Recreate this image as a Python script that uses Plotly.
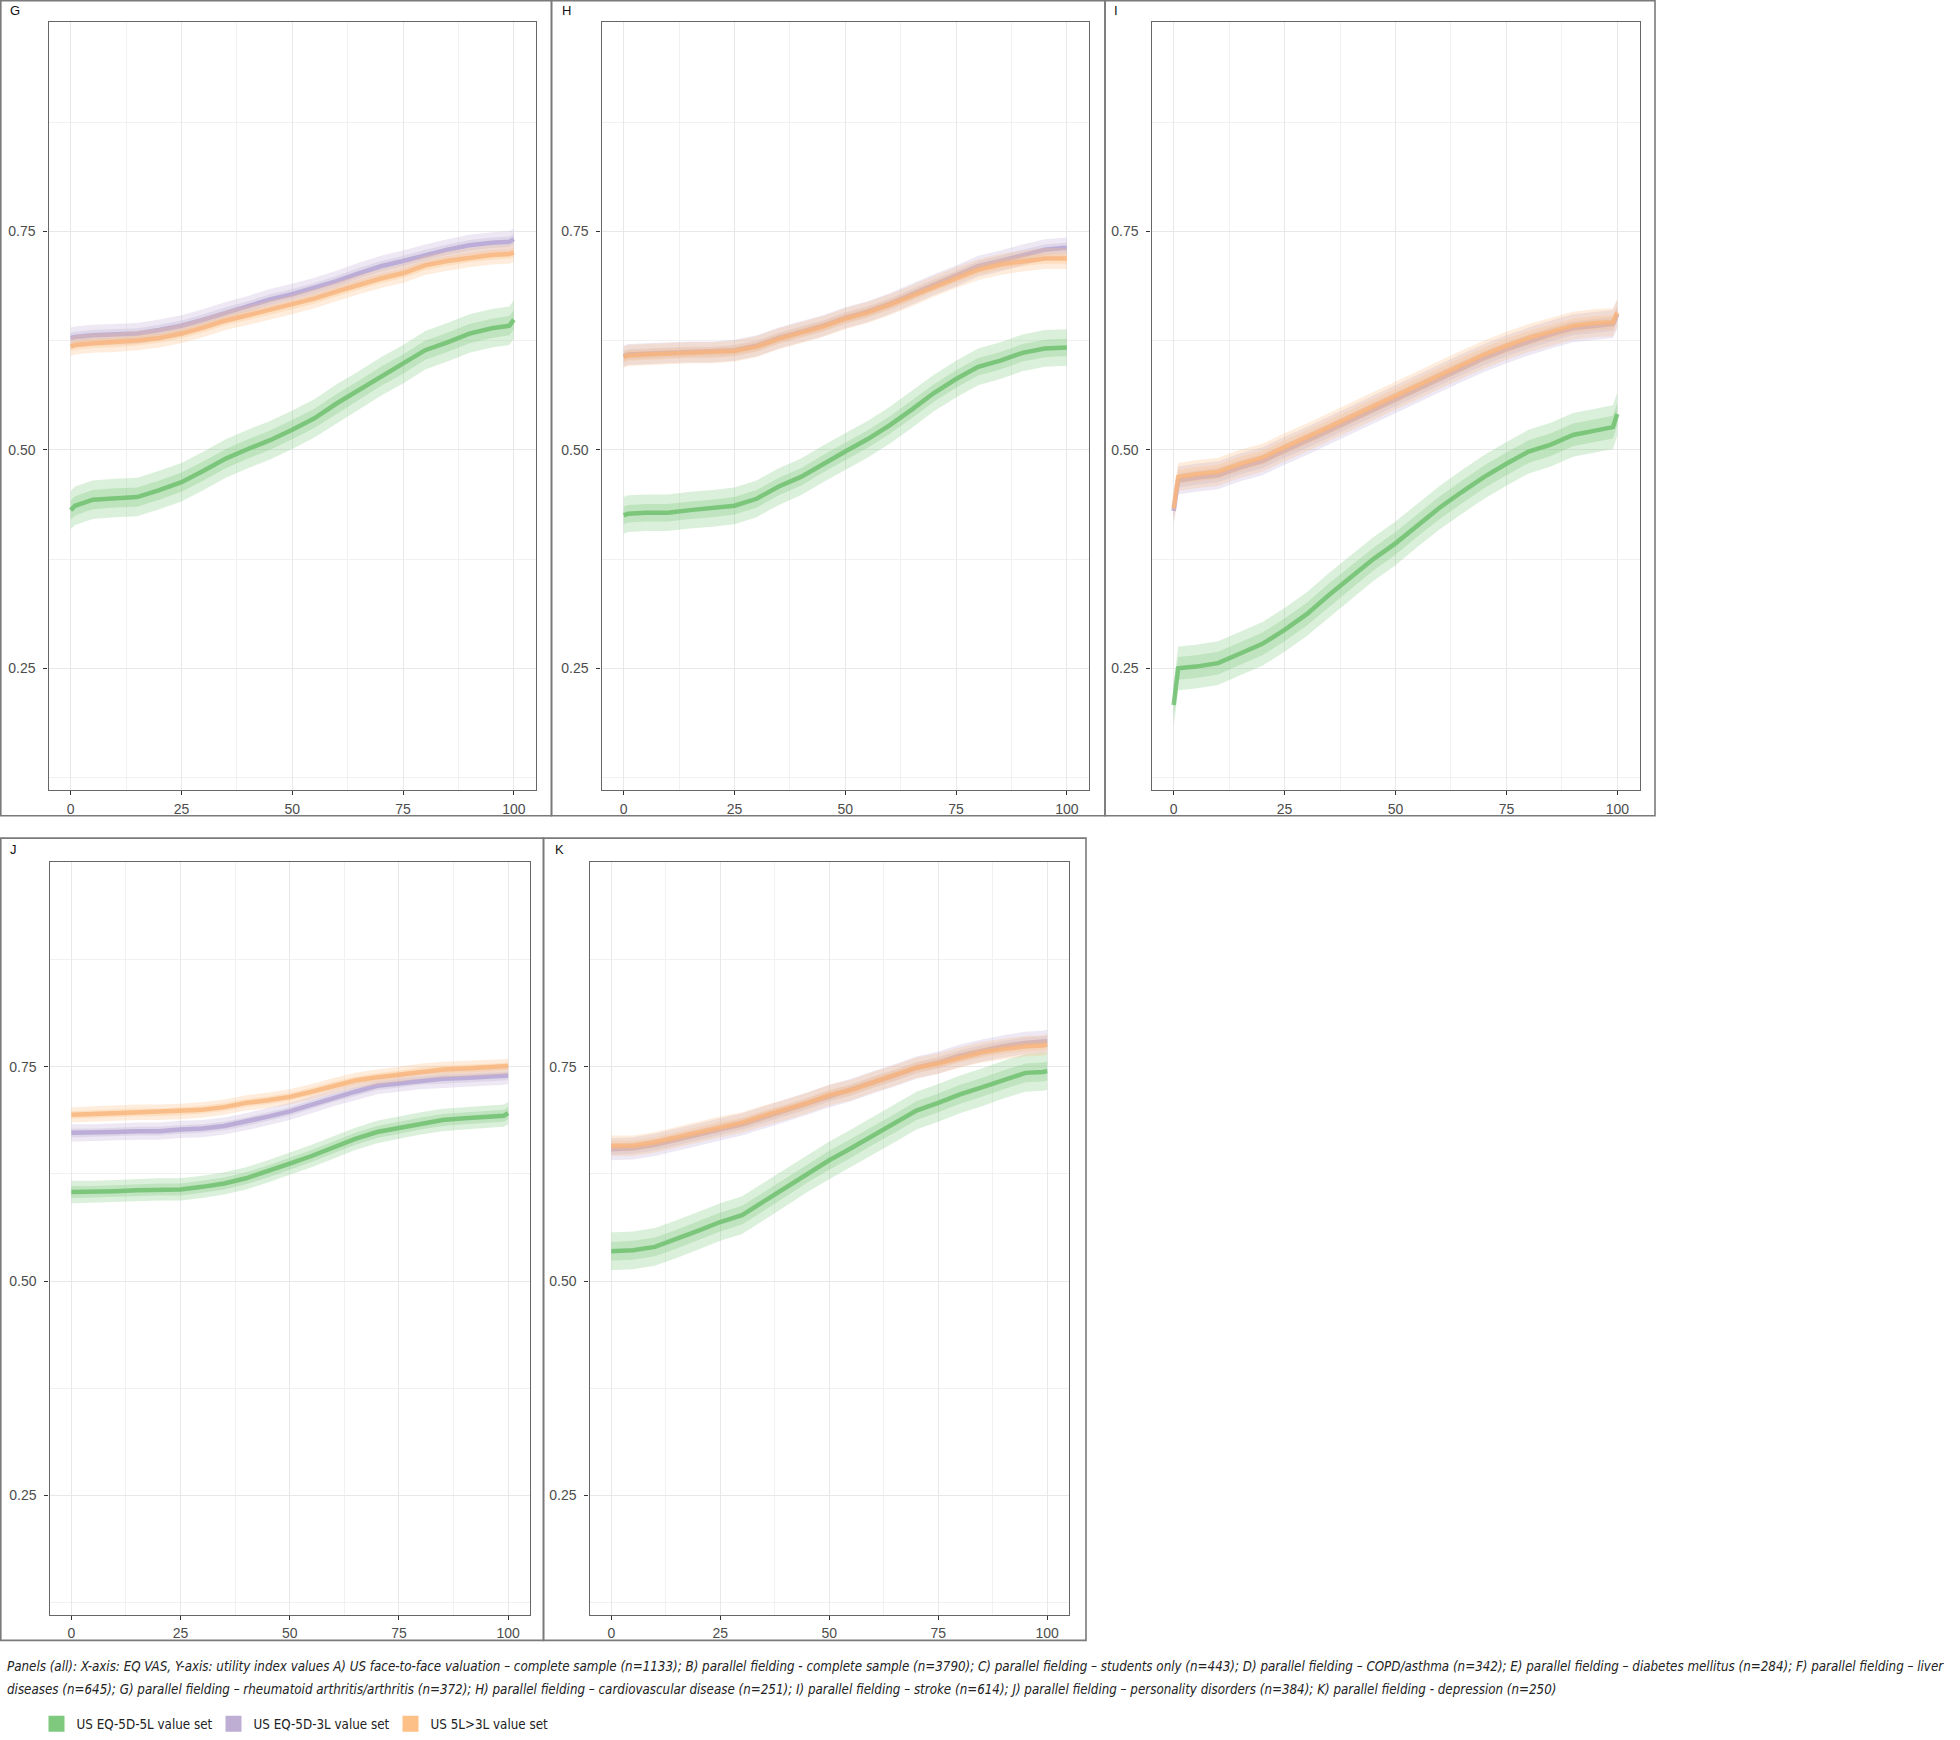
import plotly.graph_objects as go

W, H = 1960, 1740

X = [0, 1, 5, 10, 15, 20, 25, 30, 35, 40, 45, 50, 55, 60, 65, 70, 75, 80, 85, 90, 95, 99, 100]
series_names = ["US EQ-5D-5L value set", "US EQ-5D-3L value set", "US 5L>3L value set"]
colors = ["#7fc97f", "#beaed4", "#fdc086"]
line_colors = ["#6cbf6c", "#b3a3d4", "#f9b57c"]
panel_labels = ["G", "H", "I", "J", "K"]

G_5L = [0.431, 0.436, 0.443, 0.445, 0.446, 0.454, 0.463, 0.476, 0.490, 0.501, 0.511, 0.523, 0.536, 0.553, 0.568, 0.584, 0.598, 0.614, 0.623, 0.633, 0.639, 0.642, 0.649]
G_3L = [0.628, 0.629, 0.631, 0.632, 0.633, 0.637, 0.642, 0.649, 0.657, 0.664, 0.672, 0.678, 0.685, 0.693, 0.702, 0.710, 0.716, 0.723, 0.729, 0.734, 0.737, 0.738, 0.741]
G_5to3 = [0.618, 0.620, 0.622, 0.623, 0.625, 0.628, 0.633, 0.640, 0.648, 0.654, 0.660, 0.666, 0.673, 0.681, 0.689, 0.696, 0.702, 0.711, 0.716, 0.720, 0.723, 0.724, 0.726]

H_5L = [0.425, 0.427, 0.428, 0.428, 0.431, 0.433, 0.436, 0.444, 0.458, 0.469, 0.484, 0.498, 0.512, 0.528, 0.546, 0.565, 0.581, 0.595, 0.602, 0.611, 0.616, 0.617, 0.617]
H_3L = [0.607, 0.609, 0.610, 0.611, 0.612, 0.612, 0.614, 0.619, 0.628, 0.635, 0.642, 0.651, 0.658, 0.667, 0.678, 0.689, 0.699, 0.710, 0.716, 0.723, 0.729, 0.731, 0.731]
H_5to3 = [0.606, 0.608, 0.609, 0.610, 0.611, 0.611, 0.613, 0.618, 0.627, 0.634, 0.641, 0.650, 0.657, 0.666, 0.676, 0.687, 0.697, 0.706, 0.712, 0.716, 0.719, 0.719, 0.719]

I_5L = [0.208, 0.250, 0.252, 0.256, 0.267, 0.278, 0.294, 0.312, 0.334, 0.354, 0.375, 0.393, 0.414, 0.434, 0.452, 0.469, 0.484, 0.498, 0.506, 0.517, 0.522, 0.526, 0.541]
I_3L = [0.430, 0.465, 0.468, 0.471, 0.480, 0.487, 0.499, 0.510, 0.522, 0.534, 0.546, 0.558, 0.570, 0.582, 0.594, 0.605, 0.615, 0.624, 0.632, 0.639, 0.642, 0.644, 0.655]
I_5to3 = [0.433, 0.469, 0.472, 0.475, 0.484, 0.491, 0.503, 0.514, 0.526, 0.538, 0.550, 0.562, 0.574, 0.586, 0.598, 0.609, 0.619, 0.628, 0.635, 0.642, 0.645, 0.646, 0.657]

J_5L = [0.604, 0.604, 0.604, 0.605, 0.606, 0.607, 0.607, 0.610, 0.614, 0.620, 0.628, 0.637, 0.646, 0.656, 0.666, 0.674, 0.679, 0.684, 0.688, 0.690, 0.692, 0.693, 0.696]
J_3L = [0.673, 0.673, 0.673, 0.674, 0.675, 0.675, 0.677, 0.678, 0.681, 0.686, 0.692, 0.698, 0.706, 0.714, 0.721, 0.728, 0.731, 0.734, 0.736, 0.737, 0.738, 0.739, 0.740]
J_5to3 = [0.694, 0.694, 0.695, 0.696, 0.697, 0.697, 0.698, 0.700, 0.703, 0.708, 0.711, 0.715, 0.721, 0.728, 0.734, 0.738, 0.741, 0.745, 0.747, 0.748, 0.749, 0.750, 0.751]

K_5L = [0.535, 0.535, 0.536, 0.540, 0.549, 0.559, 0.569, 0.577, 0.593, 0.609, 0.626, 0.641, 0.655, 0.670, 0.684, 0.699, 0.708, 0.718, 0.726, 0.735, 0.743, 0.744, 0.745]
K_3L = [0.654, 0.654, 0.655, 0.659, 0.665, 0.671, 0.677, 0.683, 0.691, 0.699, 0.707, 0.716, 0.723, 0.732, 0.740, 0.749, 0.755, 0.763, 0.769, 0.774, 0.778, 0.779, 0.780]
K_5to3 = [0.658, 0.658, 0.658, 0.662, 0.668, 0.674, 0.680, 0.685, 0.693, 0.700, 0.708, 0.717, 0.723, 0.732, 0.740, 0.749, 0.754, 0.761, 0.767, 0.771, 0.774, 0.775, 0.776]

# confidence band half-widths (outer, inner) per panel for [5L, 3L, 5L>3L]
G_ci = [(0.022, 0.011), (0.012, 0.006), (0.011, 0.0055)]
H_ci = [(0.021, 0.010), (0.012, 0.006), (0.012, 0.006)]
I_ci = [(0.025, 0.013), (0.016, 0.008), (0.016, 0.008)]
J_ci = [(0.013, 0.007), (0.010, 0.005), (0.009, 0.0045)]
K_ci = [(0.022, 0.011), (0.013, 0.0065), (0.012, 0.006)]

x_ticks = [0, 25, 50, 75, 100]
x_minor = [12.5, 37.5, 62.5, 87.5]
y_ticks = [0.25, 0.50, 0.75]
y_ticktext = ["0.25", "0.50", "0.75"]
y_minor = [0.125, 0.375, 0.625, 0.875]

caption1 = ("Panels (all): X-axis: EQ VAS, Y-axis: utility index values A) US face-to-face valuation \u2013 complete sample (n=1133); "
            "B) parallel fielding - complete sample (n=3790); C) parallel fielding \u2013 students only (n=443); "
            "D) parallel fielding \u2013 COPD/asthma (n=342); E) parallel fielding \u2013 diabetes mellitus (n=284); F) parallel fielding \u2013 liver")
caption2 = ("diseases (n=645); G) parallel fielding \u2013 rheumatoid arthritis/arthritis (n=372); H) parallel fielding \u2013 cardiovascular disease (n=251); "
            "I) parallel fielding \u2013 stroke (n=614); J) parallel fielding \u2013 personality disorders (n=384); K) parallel fielding - depression (n=250)")

panels = [
    (G_5L, G_3L, G_5to3, G_ci),
    (H_5L, H_3L, H_5to3, H_ci),
    (I_5L, I_3L, I_5to3, I_ci),
    (J_5L, J_3L, J_5to3, J_ci),
    (K_5L, K_3L, K_5to3, K_ci),
]

# layout geometry in pixels: plot areas (l, r, t, b) and outer boxes (l, r, t, b)
plot_px = [(48.5, 536, 22.5, 793.5), (601.5, 1089, 22.5, 793.5), (1151.5, 1639.5, 22.5, 793.5),
           (49.5, 530, 866, 1622), (589.5, 1069, 866, 1622)]
box_px = [(0.8, 551.5, 0.8, 819.5), (551.5, 1105, 0.8, 819.5), (1105, 1655, 0.8, 819.5),
          (0.8, 543.5, 842, 1648), (543.5, 1086, 842, 1648)]
label_px = [(8, 11), (560, 11), (1112, 11), (8, 853), (553, 853)]

SANS = "Liberation Sans, Arial, sans-serif"
NARROW = "Liberation Sans Narrow, Arial Narrow, DejaVu Sans Condensed, sans-serif"


def rgba(hexc, a):
    h = hexc.lstrip("#")
    return "rgba(%d,%d,%d,%.3f)" % (int(h[0:2], 16), int(h[2:4], 16), int(h[4:6], 16), a)


fig = go.Figure()
layout_axes = {}
shapes = []
annotations = []

for i, (s5, s3, s53, ci) in enumerate(panels):
    n = i + 1
    xa = "x" if n == 1 else "x%d" % n
    ya = "y" if n == 1 else "y%d" % n
    for k, vals in enumerate([s5, s3, s53]):
        c = colors[k]
        w_out, w_in = ci[k]
        for w, a in [(w_out, 0.28), (w_in, 0.30)]:
            hi = [v + w for v in vals]
            lo = [v - w for v in vals]
            fig.add_trace(go.Scatter(x=X + X[::-1], y=hi + lo[::-1], fill="toself",
                                     fillcolor=rgba(c, a), line=dict(width=0),
                                     mode="lines", hoverinfo="skip", showlegend=False,
                                     xaxis=xa, yaxis=ya))
        fig.add_trace(go.Scatter(x=X, y=vals, mode="lines",
                                 line=dict(color=line_colors[k], width=4.5), opacity=0.8,
                                 name=series_names[k], showlegend=False,
                                 xaxis=xa, yaxis=ya))
    l, r, t, b = plot_px[i]
    xkey = "xaxis" if n == 1 else "xaxis%d" % n
    ykey = "yaxis" if n == 1 else "yaxis%d" % n
    layout_axes[xkey] = dict(
        domain=[l / W, r / W], anchor=ya, range=[-5, 105],
        tickmode="array", tickvals=x_ticks, ticks="outside", ticklen=4, tickwidth=1.3,
        tickcolor="#333333", showline=True, mirror=True, linecolor="#666666", linewidth=1.3,
        showgrid=True, gridcolor="#e8e8e8", gridwidth=1.4, zeroline=False, ticklabelstandoff=2,
        tickfont=dict(family=SANS, size=14, color="#4d4d4d"),
        minor=dict(tickmode="array", tickvals=x_minor, showgrid=True, gridcolor="#f1f1f1", gridwidth=1, ticklen=0),
    )
    layout_axes[ykey] = dict(
        domain=[1 - b / H, 1 - t / H], anchor=xa, range=[0.111, 0.989],
        tickmode="array", tickvals=y_ticks, ticktext=y_ticktext, ticks="outside", ticklen=4, tickwidth=1.3,
        tickcolor="#333333", showline=True, mirror=True, linecolor="#666666", linewidth=1.3,
        showgrid=True, gridcolor="#e8e8e8", gridwidth=1.4, zeroline=False, ticklabelstandoff=5,
        tickfont=dict(family=SANS, size=14, color="#4d4d4d"),
        minor=dict(tickmode="array", tickvals=y_minor, showgrid=True, gridcolor="#f1f1f1", gridwidth=1, ticklen=0),
    )
    bl, br, bt, bb = box_px[i]
    shapes.append(dict(type="rect", xref="paper", yref="paper", x0=bl / W, x1=br / W,
                       y0=1 - bb / H, y1=1 - bt / H, line=dict(color="#7a7a7a", width=1.6),
                       fillcolor="rgba(0,0,0,0)", layer="below"))
    lx, ly = label_px[i]
    annotations.append(dict(text=panel_labels[i], xref="paper", yref="paper", x=lx / W, y=1 - ly / H,
                            xanchor="left", yanchor="middle", showarrow=False,
                            font=dict(family=SANS, size=13, color="#111111")))

for txt, yy in [(caption1, 1674), (caption2, 1697)]:
    annotations.append(dict(text="<i>" + txt + "</i>", xref="paper", yref="paper", x=5 / W, y=1 - yy / H,
                            xanchor="left", yanchor="middle", showarrow=False,
                            font=dict(family=NARROW, size=13.25, color="#222222")))

# legend entries
for k in range(3):
    fig.add_trace(go.Scatter(x=[None], y=[None], mode="markers",
                             marker=dict(symbol="square", size=16, color=colors[k]),
                             name=series_names[k], showlegend=True))

fig.update_layout(
    width=W, height=H, margin=dict(l=0, r=0, t=0, b=0),
    paper_bgcolor="white", plot_bgcolor="white",
    shapes=shapes, annotations=annotations,
    legend=dict(orientation="h", x=36.5 / W, y=1 - 1732 / H, xanchor="left", yanchor="middle",
                entrywidth=132, entrywidthmode="pixels", itemsizing="trace",
                font=dict(family=NARROW, size=13.3, color="#222222"),
                bgcolor="rgba(0,0,0,0)"),
    **layout_axes,
)

post = (
    "document.documentElement.style.margin='0px';"
    "document.documentElement.style.overflow='hidden';"
    "document.documentElement.style.height='1740px';"
    "document.body.style.margin='0px';"
    "document.body.style.overflow='hidden';"
    "document.body.style.height='1740px';"
    "var gd=document.querySelector('.plotly-graph-div');"
    "if(gd){gd.style.position='fixed';gd.style.left='0px';gd.style.top='0px';}"
)
fig.write_html("out.html", post_script=post, config={"displayModeBar": False})
